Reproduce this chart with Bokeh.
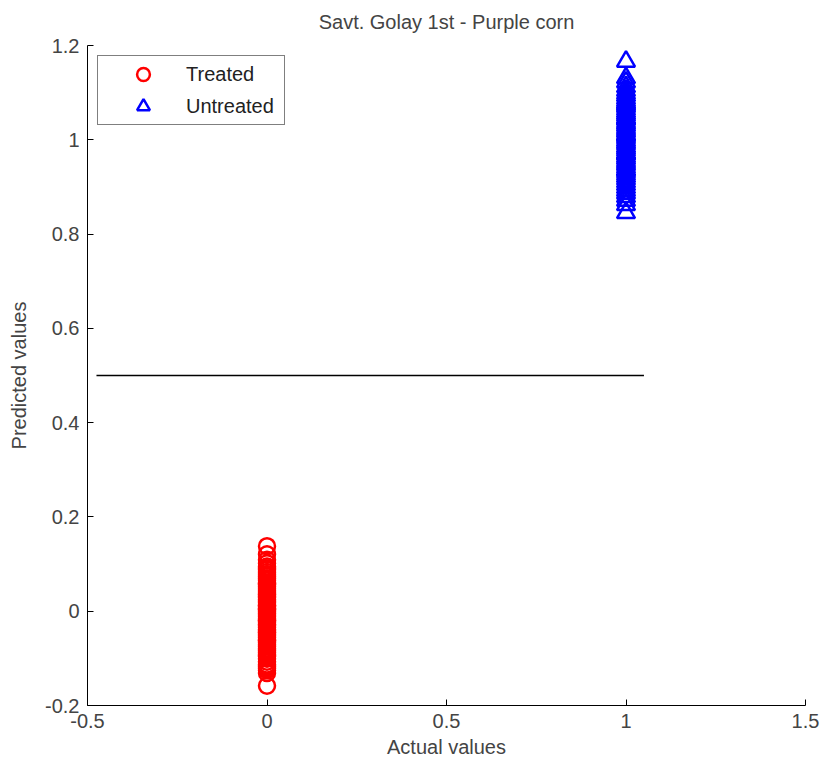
from bokeh.plotting import figure
from bokeh.models import Range1d, FixedTicker, CustomJSTickFormatter, Legend, LegendItem
from bokeh.embed import file_html
from bokeh.resources import INLINE

# Predicted class values for each group (actual value 0 = treated, 1 = untreated)
treated_actual = 0
treated_pred = [0.138, 0.121, 0.109, 0.102, 0.095, 0.088, 0.083, 0.079, 0.074, 0.070,
                0.066, 0.061, 0.058, 0.053, 0.049, 0.045, 0.041, 0.037, 0.032, 0.029,
                0.025, 0.021, 0.018, 0.013, 0.010, 0.006, 0.002, -0.001, -0.005, -0.008,
                -0.012, -0.016, -0.019, -0.023, -0.027, -0.030, -0.034, -0.038, -0.041,
                -0.045, -0.049, -0.052, -0.056, -0.060, -0.063, -0.067, -0.071, -0.075,
                -0.079, -0.083, -0.087, -0.091, -0.096, -0.101, -0.107, -0.113, -0.121,
                -0.131, -0.158, 0.004, -0.020, 0.035, 0.057, -0.062, 0.012, -0.044,
                -0.117, -0.125, -0.094, 0.091]

untreated_actual = 1
untreated_pred = [1.166, 1.131, 1.122, 1.112, 1.104, 1.098, 1.093, 1.087, 1.082, 1.078,
                  1.073, 1.069, 1.064, 1.059, 1.055, 1.051, 1.046, 1.042, 1.037, 1.033,
                  1.029, 1.024, 1.020, 1.016, 1.011, 1.007, 1.003, 0.998, 0.994, 0.990,
                  0.985, 0.981, 0.977, 0.972, 0.968, 0.963, 0.959, 0.954, 0.950, 0.946,
                  0.941, 0.936, 0.931, 0.926, 0.921, 0.916, 0.910, 0.904, 0.898, 0.892,
                  0.886, 0.879, 0.871, 0.862, 0.845, 1.010, 0.970, 1.045, 0.935, 1.075]

# Classification threshold line
threshold = 0.5
threshold_x = [-0.475, 1.05]

x_ticks = [-0.5, 0, 0.5, 1, 1.5]
y_ticks = [-0.2, 0, 0.2, 0.4, 0.6, 0.8, 1, 1.2]

FONT = "Liberation Sans"
TEXT = "#444444"

p = figure(width=822, height=763, output_backend="svg", toolbar_location=None,
           x_range=Range1d(-0.5, 1.5), y_range=Range1d(-0.2, 1.2),
           min_border_left=87, min_border_right=17, min_border_top=0,
           min_border_bottom=58, title="Savt. Golay 1st - Purple corn")

p.title.align = "center"
p.title.vertical_align = "top"
p.title.standoff = 21
p.title.text_font = FONT
p.title.text_font_size = "20px"
p.title.text_font_style = "normal"
p.title.text_color = TEXT

p.outline_line_color = None
p.xgrid.visible = False
p.ygrid.visible = False
p.background_fill_color = "white"
p.border_fill_color = "white"

fmt = CustomJSTickFormatter(code="return String(tick);")
for ax, ticks, label in ((p.xaxis[0], x_ticks, "Actual values"),
                         (p.yaxis[0], y_ticks, "Predicted values")):
    ax.ticker = FixedTicker(ticks=ticks)
    ax.formatter = fmt
    ax.axis_label = label
    ax.axis_label_text_font = FONT
    ax.axis_label_text_font_size = "20px"
    ax.axis_label_text_font_style = "normal"
    ax.axis_label_text_color = TEXT
    ax.major_label_text_font = FONT
    ax.major_label_text_font_size = "20px"
    ax.major_label_text_color = TEXT
    ax.major_tick_in = 6
    ax.major_tick_out = 0
    ax.minor_tick_line_color = None
    ax.axis_line_color = "black"
    ax.major_tick_line_color = "black"
    ax.major_label_standoff = 8

p.xaxis[0].axis_label_standoff = 5
p.yaxis[0].axis_label_standoff = 12

p.line(threshold_x, [threshold, threshold], line_color="black", line_width=1.5)

r_treated = p.scatter([treated_actual] * len(treated_pred), treated_pred, marker="circle",
                      size=16, fill_color=None, line_color="#ff0000", line_width=2.5)
r_untreated = p.scatter([untreated_actual] * len(untreated_pred), untreated_pred,
                        marker="triangle", size=18, fill_color=None,
                        line_color="#0000ff", line_width=2.5)

legend = Legend(items=[LegendItem(label="Treated", renderers=[r_treated]),
                       LegendItem(label="Untreated", renderers=[r_untreated])],
                location="top_left", margin=10, padding=2, spacing=0,
                glyph_width=86, glyph_height=32, label_standoff=0, label_width=96,
                label_text_font=FONT, label_text_font_size="20px",
                label_text_color="#222222", border_line_color="black",
                border_line_width=1, background_fill_color="white",
                background_fill_alpha=1)
p.add_layout(legend)

open("out.html", "w").write(file_html(p, INLINE))
